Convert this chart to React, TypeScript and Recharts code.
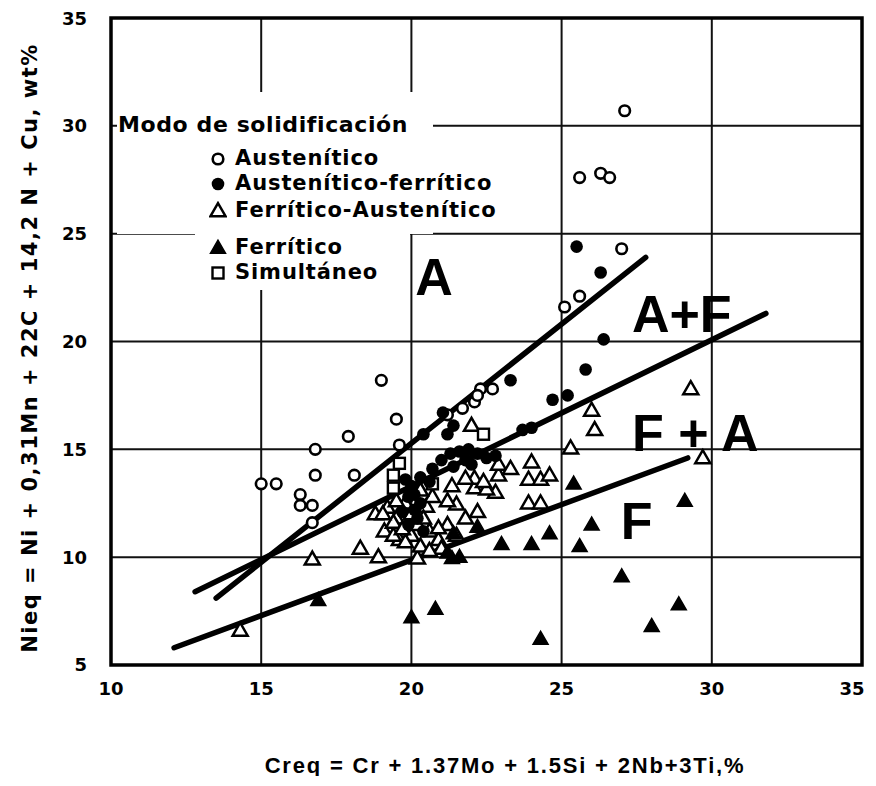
import React from 'react';
import {
  ScatterChart, Scatter, XAxis, YAxis, CartesianGrid, ReferenceLine,
  ReferenceArea, ReferenceDot, Legend,
} from 'recharts';

const X_TICKS = [10, 15, 20, 25, 30, 35];
const Y_TICKS = [5, 10, 15, 20, 25, 30, 35];

const X_TITLE = 'Creq = Cr + 1.37Mo + 1.5Si + 2Nb+3Ti,%';
const Y_TITLE = 'Nieq = Ni + 0,31Mn + 22C + 14,2 N + Cu, wt%';
const LEGEND_TITLE = 'Modo de solidificación';

const SERIES_NAMES = [
  'Austenítico',
  'Austenítico-ferrítico',
  'Ferrítico-Austenítico',
  'Ferrítico',
  'Simultáneo',
];

const austenitico = [
  { x: 27.1, y: 30.7 }, { x: 25.6, y: 27.6 }, { x: 26.3, y: 27.8 }, { x: 26.6, y: 27.6 },
  { x: 27.0, y: 24.3 }, { x: 25.6, y: 22.1 }, { x: 25.1, y: 21.6 }, { x: 19.0, y: 18.2 },
  { x: 19.5, y: 16.4 }, { x: 19.6, y: 15.2 }, { x: 17.9, y: 15.6 }, { x: 16.8, y: 15.0 },
  { x: 16.8, y: 13.8 }, { x: 18.1, y: 13.8 }, { x: 15.0, y: 13.4 }, { x: 15.5, y: 13.4 },
  { x: 16.3, y: 12.9 }, { x: 16.3, y: 12.4 }, { x: 16.7, y: 12.4 }, { x: 16.7, y: 11.6 },
  { x: 21.2, y: 16.6 }, { x: 21.7, y: 16.9 }, { x: 22.1, y: 17.2 }, { x: 22.3, y: 17.8 },
  { x: 22.7, y: 17.8 }, { x: 22.2, y: 17.5 },
];

const austeniticoFerritico = [
  { x: 25.5, y: 24.4 }, { x: 26.3, y: 23.2 }, { x: 26.4, y: 20.1 }, { x: 25.8, y: 18.7 },
  { x: 23.3, y: 18.2 }, { x: 24.7, y: 17.3 }, { x: 25.2, y: 17.5 }, { x: 23.7, y: 15.9 },
  { x: 24.0, y: 16.0 }, { x: 20.4, y: 15.7 }, { x: 21.2, y: 15.7 }, { x: 21.4, y: 16.1 },
  { x: 21.05, y: 16.7 }, { x: 21.3, y: 14.8 }, { x: 21.6, y: 14.9 }, { x: 21.9, y: 15.0 },
  { x: 22.2, y: 14.8 }, { x: 22.5, y: 14.6 }, { x: 21.0, y: 14.5 }, { x: 21.8, y: 14.5 },
  { x: 20.7, y: 14.1 }, { x: 20.3, y: 13.7 }, { x: 20.0, y: 13.3 }, { x: 19.9, y: 12.8 },
  { x: 20.1, y: 12.2 }, { x: 20.2, y: 11.8 }, { x: 19.9, y: 11.5 }, { x: 22.0, y: 14.3 },
  { x: 21.4, y: 14.2 }, { x: 19.8, y: 13.6 }, { x: 20.1, y: 12.9 }, { x: 20.3, y: 12.5 },
  { x: 19.7, y: 12.1 }, { x: 20.4, y: 11.2 }, { x: 20.6, y: 13.5 }, { x: 22.8, y: 14.7 },
];

const ferriticoAustenitico = [
  { x: 29.3, y: 17.8 }, { x: 26.0, y: 16.8 }, { x: 26.1, y: 15.9 }, { x: 25.3, y: 15.05 },
  { x: 29.7, y: 14.6 }, { x: 24.0, y: 14.4 }, { x: 23.9, y: 13.6 }, { x: 24.3, y: 13.6 },
  { x: 24.6, y: 13.8 }, { x: 23.9, y: 12.5 }, { x: 24.3, y: 12.5 }, { x: 22.0, y: 16.1 },
  { x: 16.7, y: 9.9 }, { x: 18.3, y: 10.4 }, { x: 18.9, y: 10.0 }, { x: 20.2, y: 9.95 },
  { x: 14.3, y: 6.6 }, { x: 22.2, y: 12.1 }, { x: 21.5, y: 12.45 }, { x: 21.2, y: 12.6 },
  { x: 22.8, y: 13.0 }, { x: 22.1, y: 13.2 }, { x: 22.5, y: 13.15 }, { x: 22.1, y: 13.65 },
  { x: 22.4, y: 13.5 }, { x: 22.9, y: 13.8 }, { x: 22.9, y: 14.3 }, { x: 23.3, y: 14.1 },
  { x: 21.35, y: 13.3 }, { x: 21.8, y: 13.65 }, { x: 20.5, y: 12.35 }, { x: 19.2, y: 12.3 },
  { x: 19.5, y: 11.8 }, { x: 19.1, y: 11.2 }, { x: 19.6, y: 10.8 }, { x: 20.0, y: 11.0 },
  { x: 20.3, y: 10.5 }, { x: 20.6, y: 11.2 }, { x: 20.9, y: 10.8 }, { x: 21.2, y: 11.5 },
  { x: 19.8, y: 12.5 }, { x: 20.2, y: 11.5 }, { x: 20.9, y: 11.35 }, { x: 21.5, y: 11.0 },
  { x: 21.8, y: 11.8 }, { x: 19.4, y: 11.0 }, { x: 21.0, y: 10.4 }, { x: 20.6, y: 10.3 },
  { x: 18.8, y: 12.0 }, { x: 19.4, y: 11.6 }, { x: 19.05, y: 12.0 }, { x: 19.8, y: 10.7 },
  { x: 20.0, y: 12.0 }, { x: 20.4, y: 11.8 }, { x: 19.7, y: 11.3 }, { x: 20.7, y: 12.8 },
  { x: 19.5, y: 12.6 }, { x: 20.3, y: 13.1 },
];

const ferritico = [
  { x: 25.4, y: 13.4 }, { x: 29.1, y: 12.6 }, { x: 26.0, y: 11.5 }, { x: 24.6, y: 11.1 },
  { x: 24.0, y: 10.6 }, { x: 25.6, y: 10.5 }, { x: 27.0, y: 9.1 }, { x: 28.9, y: 7.8 },
  { x: 28.0, y: 6.8 }, { x: 24.3, y: 6.2 }, { x: 16.9, y: 8.0 }, { x: 20.0, y: 7.2 },
  { x: 20.8, y: 7.6 }, { x: 23.0, y: 10.6 }, { x: 21.35, y: 9.95 }, { x: 22.2, y: 11.4 },
  { x: 21.4, y: 11.1 }, { x: 21.2, y: 10.2 }, { x: 21.6, y: 10.0 },
];

const simultaneo = [
  { x: 22.4, y: 15.7 }, { x: 19.6, y: 14.35 }, { x: 19.4, y: 13.8 }, { x: 19.4, y: 13.2 },
  { x: 20.7, y: 13.4 },
];

// boundary lines between solidification modes
const lineA = [{ x: 13.5, y: 8.1 }, { x: 27.8, y: 23.9 }];
const lineAF = [{ x: 12.8, y: 8.4 }, { x: 31.8, y: 21.3 }];
const lineFA = [{ x: 12.1, y: 5.8 }, { x: 29.2, y: 14.6 }];

const REGION_LABELS = [
  { x: 20.75, y: 23.0, text: 'A' },
  { x: 29.0, y: 21.3, text: 'A+F' },
  { x: 29.45, y: 15.8, text: 'F + A' },
  { x: 27.5, y: 11.7, text: 'F' },
];

const FONT = "'DejaVu Sans', sans-serif";
const ARIAL = "'Liberation Sans', Arial, sans-serif";

const OpenCircle = (p: any) => (
  <circle cx={p.cx} cy={p.cy} r={5.3} fill="#fff" stroke="#000" strokeWidth={2.6} />
);
const FilledCircle = (p: any) => <circle cx={p.cx} cy={p.cy} r={6.3} fill="#000" />;
const triPts = (cx: number, cy: number) => {
  const w = 15, h = 13;
  return `${cx},${cy - h * 0.6} ${cx - w / 2},${cy + h * 0.4} ${cx + w / 2},${cy + h * 0.4}`;
};
const OpenTriangle = (p: any) => (
  <polygon points={triPts(p.cx, p.cy)} fill="#fff" stroke="#000" strokeWidth={2.5} strokeLinejoin="miter" />
);
const FilledTriangle = (p: any) => <polygon points={triPts(p.cx, p.cy)} fill="#000" stroke="#000" strokeWidth={1.5} />;
const OpenSquare = (p: any) => (
  <rect x={p.cx - 5.5} y={p.cy - 5.5} width={11} height={11} fill="#fff" stroke="#000" strokeWidth={2.4} />
);

const SHAPES = [OpenCircle, FilledCircle, OpenTriangle, FilledTriangle, OpenSquare];
const ITEM_TOPS = [66, 91, 118, 155, 180];

const LegendBox = () => (
  <div style={{ position: 'relative', width: 316, height: 198, fontFamily: FONT, color: '#000' }}>
    <div style={{ position: 'absolute', left: 0, top: 0, width: 316, height: 142, background: '#fff' }} />
    <div style={{ position: 'absolute', left: 78, top: 140, width: 215, height: 58, background: '#fff' }} />
    <div style={{ position: 'absolute', left: 1, top: 20, fontSize: 22, fontWeight: 700, letterSpacing: 0.6, lineHeight: '26px', whiteSpace: 'nowrap' }}>
      {LEGEND_TITLE}
    </div>
    {SERIES_NAMES.map((name, i) => {
      const Shape = SHAPES[i];
      return (
        <div key={name} style={{ position: 'absolute', left: 92, top: ITEM_TOPS[i] - 12, height: 24, display: 'flex', alignItems: 'center', whiteSpace: 'nowrap' }}>
          <svg width={18} height={18} style={{ display: 'block' }}>
            <Shape cx={9} cy={10} />
          </svg>
          <span style={{ marginLeft: 8, fontSize: 21, fontWeight: 700, letterSpacing: 0.9, lineHeight: '24px' }}>{name}</span>
        </div>
      );
    })}
  </div>
);

const YTitle = () => (
  <text
    x={22}
    y={340}
    transform="rotate(-90, 22, 340)"
    textAnchor="middle"
    dominantBaseline="central"
    fontFamily={FONT}
    fontWeight={700}
    fontSize={21}
    letterSpacing={1.5}
    fill="#000"
  >
    {Y_TITLE}
  </text>
);

const XTitle = () => (
  <text
    x={497}
    y={757}
    textAnchor="middle"
    dominantBaseline="central"
    fontFamily={ARIAL}
    fontWeight={700}
    fontSize={22}
    letterSpacing={1.8}
    fill="#000"
  >
    {X_TITLE}
  </text>
);

const tickStyle = { fontSize: 18, fontWeight: 700, fill: '#000', fontFamily: FONT };

const XTick = (p: any) => {
  const last = p.payload && p.payload.value === X_TICKS[X_TICKS.length - 1];
  return (
    <text
      x={p.x + (last ? -8 : 0)}
      y={p.y}
      dy="0.71em"
      textAnchor="middle"
      fontSize={18}
      fontWeight={700}
      fill="#000"
      fontFamily={FONT}
    >
      {p.payload ? p.payload.value : ''}
    </text>
  );
};

export default function App() {
  return (
    <div style={{ width: 860, height: 768, overflow: 'hidden' }}>
      <ScatterChart width={860} height={768} margin={{ top: 10, right: 6, bottom: 0, left: 0 }} style={{ display: 'block' }}>
        <CartesianGrid stroke="#111" strokeWidth={2} />
        <XAxis
          type="number"
          dataKey="x"
          domain={[10, 35]}
          ticks={X_TICKS}
          height={111}
          tickSize={0}
          tickMargin={17}
          axisLine={false}
          tick={<XTick />}
          label={<XTitle />}
          allowDataOverflow
        />
        <YAxis
          type="number"
          dataKey="y"
          domain={[5, 35]}
          ticks={Y_TICKS}
          width={103}
          tickSize={0}
          tickMargin={24}
          axisLine={false}
          tick={tickStyle}
          label={<YTitle />}
          allowDataOverflow
        />
        <ReferenceArea x1={10} x2={35} y1={5} y2={35} fill="none" stroke="#000" strokeWidth={3.5} />
        <ReferenceLine segment={lineA} stroke="#000" strokeWidth={5.5} strokeLinecap="round" />
        <ReferenceLine segment={lineAF} stroke="#000" strokeWidth={5.5} strokeLinecap="round" />
        <ReferenceLine segment={lineFA} stroke="#000" strokeWidth={5.5} strokeLinecap="round" />
        <Scatter name={SERIES_NAMES[2]} data={ferriticoAustenitico} shape={OpenTriangle} isAnimationActive={false} />
        <Scatter name={SERIES_NAMES[3]} data={ferritico} shape={FilledTriangle} isAnimationActive={false} />
        <Scatter name={SERIES_NAMES[4]} data={simultaneo} shape={OpenSquare} isAnimationActive={false} />
        <Scatter name={SERIES_NAMES[0]} data={austenitico} shape={OpenCircle} isAnimationActive={false} />
        <Scatter name={SERIES_NAMES[1]} data={austeniticoFerritico} shape={FilledCircle} isAnimationActive={false} />
        {REGION_LABELS.map((r) => (
          <ReferenceDot
            key={r.text}
            x={r.x}
            y={r.y}
            r={0}
            fill="none"
            stroke="none"
            label={{ value: r.text, position: 'center', fontSize: 52, fontWeight: 700, fill: '#000', fontFamily: ARIAL }}
          />
        ))}
        <Legend
          layout="horizontal"
          verticalAlign="middle"
          align="center"
          content={() => <LegendBox />}
          wrapperStyle={{ left: 109, top: 84, width: 316, height: 198 }}
        />
      </ScatterChart>
    </div>
  );
}
